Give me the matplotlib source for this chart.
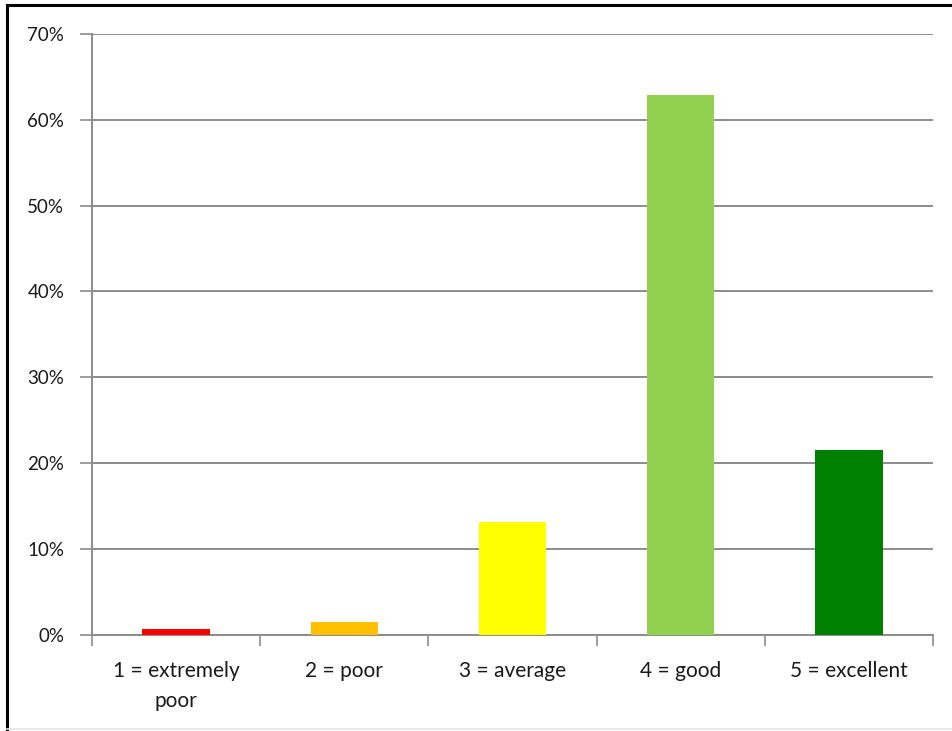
import matplotlib
matplotlib.use("Agg")
import matplotlib.pyplot as plt
from matplotlib.lines import Line2D
from matplotlib.ticker import FixedLocator, FuncFormatter

categories = ["1 = extremely\npoor", "2 = poor", "3 = average", "4 = good", "5 = excellent"]
shares = [0.63, 1.52, 13.15, 62.85, 21.47]
bar_colors = ["#ff0000", "#ffc000", "#ffff00", "#92d050", "#008000"]
y_ticks = [0, 10, 20, 30, 40, 50, 60, 70]

plt.rcParams["font.family"] = ["Lato", "DejaVu Sans"]

W, H = 953, 731
fig = plt.figure(figsize=(W / 100, H / 100), dpi=100)
ax = fig.add_axes([92 / W, (H - 634.7) / H, (933 - 92) / W, (634.7 - 34) / H])

x = list(range(len(categories)))
ax.bar(x, shares, width=0.4, color=bar_colors, zorder=3)

ax.set_xlim(-0.5, len(categories) - 0.5)
ax.set_ylim(0, 70)

grid_c = "#8c8c8c"
ax.yaxis.set_major_locator(FixedLocator(y_ticks))
ax.yaxis.set_major_formatter(FuncFormatter(lambda v, p: f"{v:.0f}%"))
ax.grid(axis="y", color=grid_c, linewidth=1.4, zorder=0)
ax.tick_params(axis="y", length=9, width=1.2, color=grid_c, pad=11,
               labelsize=13.5, labelcolor="#1a1a1a")

ax.set_xticks(x)
ax.set_xticklabels(categories, linespacing=1.6)
ax.tick_params(axis="x", which="major", length=0, pad=19, labelsize=15, labelcolor="#1a1a1a")
ax.set_xticks([i - 0.5 for i in range(len(categories) + 1)], minor=True)
ax.tick_params(axis="x", which="minor", length=8, width=1.2, color=grid_c)

for s in ["top", "right"]:
    ax.spines[s].set_visible(False)
for s in ["left", "bottom"]:
    ax.spines[s].set_color(grid_c)
    ax.spines[s].set_linewidth(1.4)

# frame around the chart
fig.add_artist(Line2D([7 / W, 7 / W], [0, 1 - 5 / H], color="black", linewidth=2.2,
                      transform=fig.transFigure))
fig.add_artist(Line2D([7 / W, 1], [1 - 5 / H, 1 - 5 / H], color="black", linewidth=2.2,
                      transform=fig.transFigure))
fig.add_artist(Line2D([7 / W, 1], [2 / H, 2 / H], color="#e6e6e6", linewidth=1.2,
                      transform=fig.transFigure))

fig.savefig("out.png", dpi=100)
